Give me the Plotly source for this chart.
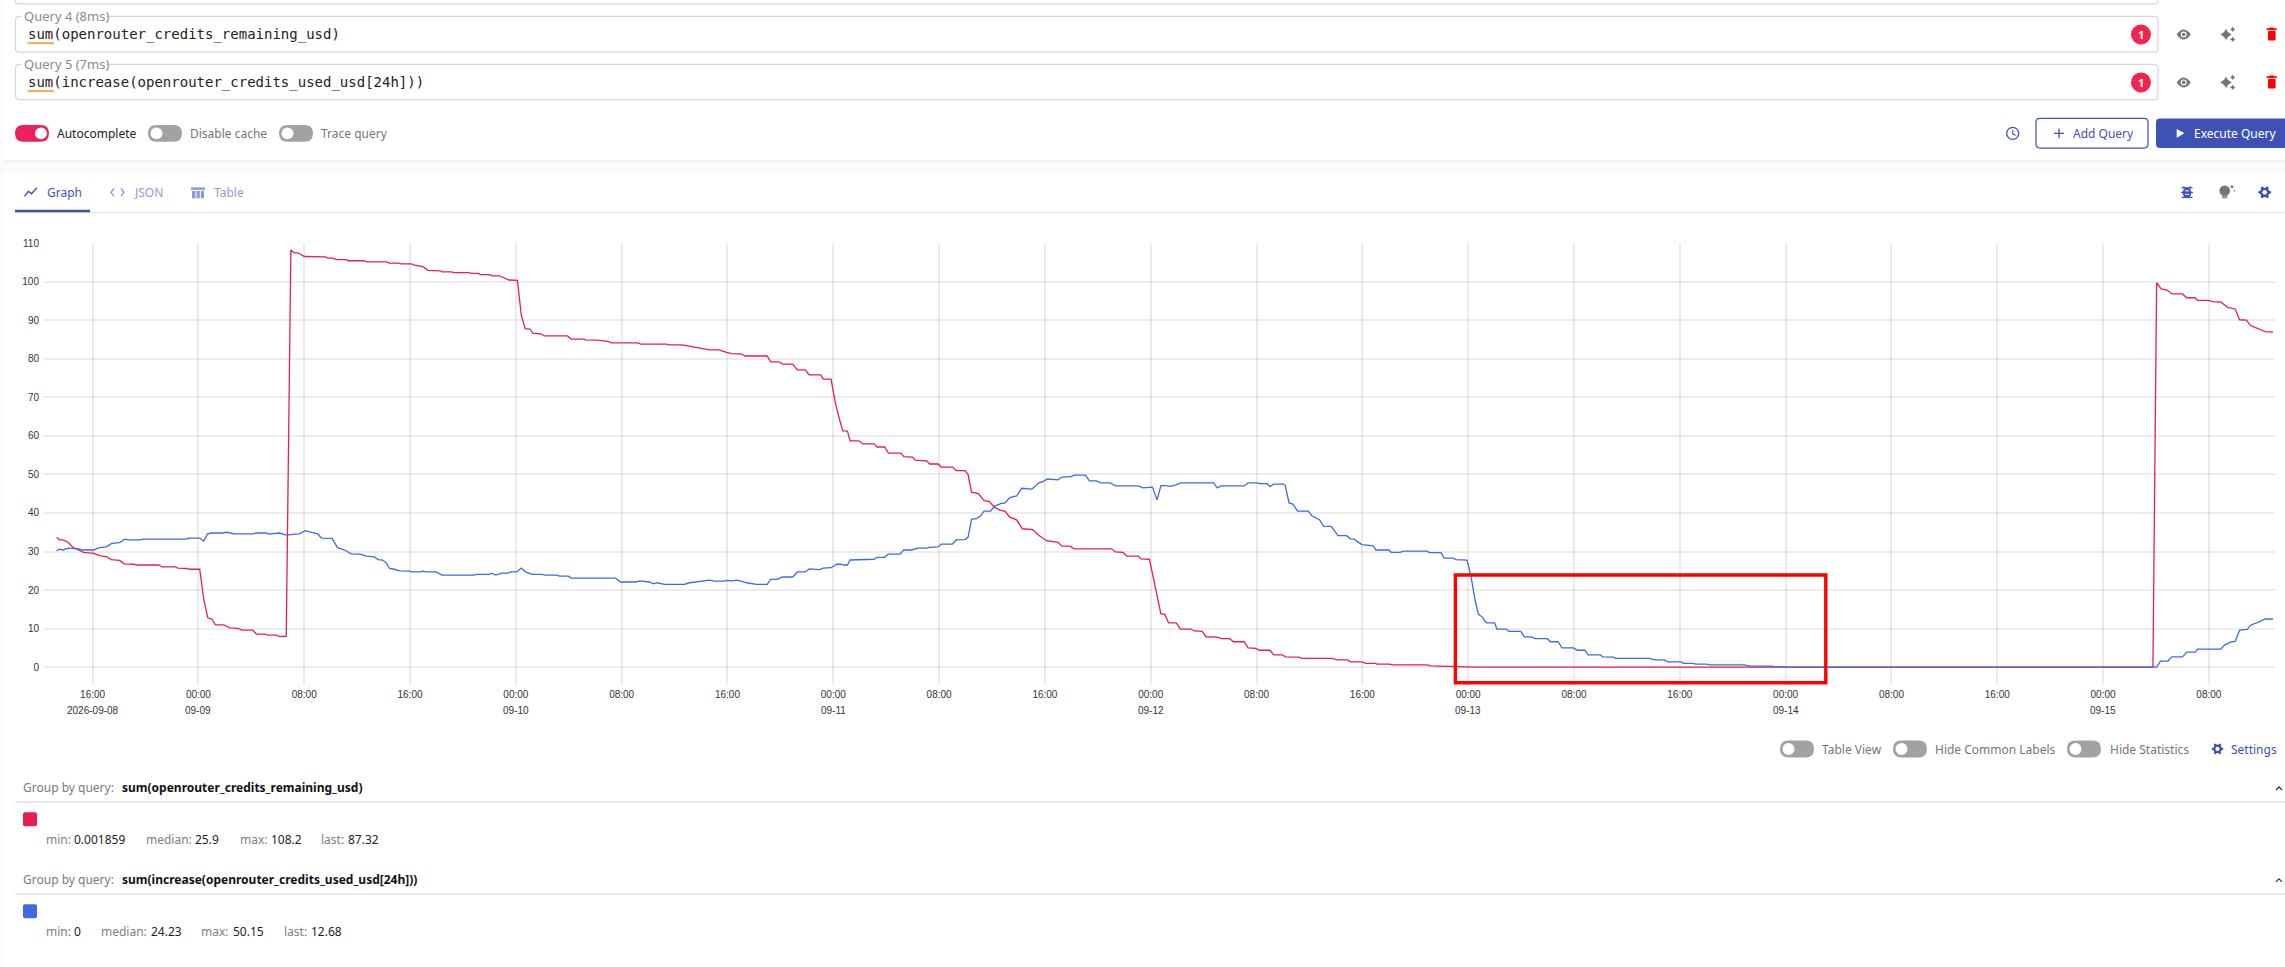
import math
from datetime import datetime, timedelta
import plotly.graph_objects as go

# ---- data (hours since 2026-09-08 00:00, USD) ----
RED_HOURS = [13.28,13.48,13.77,14.15,14.50,14.93,15.31,16.09,16.58,17.04,17.39,18.03,18.40,19.13,19.36,21.01,21.24,22.25,22.45,23.18,23.32,24.10,24.42,24.71,25.00,25.29,25.92,26.36,26.99,27.28,28.10,28.38,29.02,29.25,29.89,30.12,30.64,30.99,31.22,31.57,32.00,33.59,33.82,34.17,34.46,35.18,35.33,36.49,36.72,38.22,38.45,39.09,39.32,40.10,40.39,40.97,41.35,42.27,42.42,43.14,43.29,44.44,44.65,45.17,45.31,46.03,46.18,46.76,47.19,47.48,48.12,48.41,48.70,49.07,49.28,49.94,50.14,51.91,52.17,53.12,53.27,54.14,54.96,55.25,57.22,57.45,59.39,59.59,60.54,61.12,61.50,62.13,62.66,63.35,63.87,64.30,65.09,65.32,67.00,67.26,67.92,68.15,68.93,69.28,69.89,70.18,71.05,71.25,71.83,72.17,72.49,72.72,73.07,73.27,73.94,74.23,75.10,75.30,75.88,76.17,77.12,77.33,77.99,78.19,79.06,79.29,79.93,80.16,81.03,81.29,81.95,82.19,82.45,82.97,83.40,83.78,84.18,84.56,84.99,85.34,85.86,86.30,87.08,87.45,88.12,88.99,89.28,89.91,90.20,93.04,93.33,93.90,94.19,95.06,95.26,95.90,96.77,97.06,97.35,97.93,98.25,99.03,99.31,99.89,100.18,101.05,101.34,101.97,102.26,103.07,103.36,103.94,104.23,105.01,105.30,105.97,106.17,107.18,107.41,109.73,110.08,110.89,111.09,111.96,112.25,112.97,113.11,114.07,114.27,116.88,117.17,120.15,120.49,171.77,172.05,172.39,172.83,173.21,174.01,174.32,174.97,175.15,176.00,176.26,176.90,177.42,177.99,178.32,178.84,179.15,179.74,180.26,180.85]
RED_VALUES = [33.7,33.0,33.0,32.4,31.1,30.3,29.8,29.5,28.9,28.7,27.9,27.7,26.8,26.7,26.5,26.5,26.0,26.0,25.7,25.6,25.4,25.4,17.3,12.8,12.5,11.0,11.0,10.2,10.1,9.6,9.6,8.6,8.6,8.3,8.3,8.0,8.0,108.2,107.5,107.4,106.5,106.4,106.1,106.1,105.7,105.7,105.4,105.4,105.1,105.1,104.8,104.8,104.6,104.6,104.2,103.9,102.9,102.8,102.5,102.5,102.3,102.3,102.1,102.1,101.8,101.8,101.5,101.5,100.8,100.4,100.3,91.3,87.8,87.7,86.6,86.4,85.9,85.9,85.1,85.1,84.9,84.8,84.5,84.1,84.1,83.8,83.8,83.6,83.6,83.2,82.9,82.6,82.3,82.3,81.7,81.3,81.2,80.7,80.7,79.2,79.2,78.6,78.6,77.1,77.1,75.8,75.8,74.7,74.7,68.3,64.0,61.3,61.2,58.7,58.7,57.9,57.9,57.1,57.1,55.5,55.5,54.6,54.5,53.7,53.5,52.7,52.7,51.9,51.9,51.0,51.0,50.0,45.4,45.0,43.2,43.0,41.5,40.8,40.4,38.9,38.2,35.9,35.7,34.4,32.8,32.4,31.4,31.4,30.7,30.7,29.9,29.8,28.8,28.8,28.1,28.0,13.8,13.7,11.5,11.5,9.9,9.9,9.4,9.3,7.9,7.8,7.4,7.4,6.6,6.6,5.0,4.9,4.4,4.4,3.2,3.2,2.7,2.6,2.3,2.3,1.9,1.9,1.4,1.4,1.0,1.0,0.8,0.8,0.6,0.6,0.35,0.2,0.002,0.002,99.7,98.1,97.8,96.8,96.8,95.8,95.8,95.1,95.1,94.8,94.7,93.3,92.9,90.1,90.0,88.6,87.8,87.0,86.9]
BLUE_HOURS = [13.28,13.48,13.77,14.15,14.93,15.22,16.09,16.38,16.67,17.04,17.45,18.03,18.43,18.69,19.56,19.85,23.03,23.32,24.10,24.39,24.68,24.97,25.84,26.13,26.71,28.10,28.38,29.11,29.31,29.89,30.12,30.55,30.84,31.28,31.63,32.06,33.01,33.30,34.11,34.52,35.04,35.56,36.20,36.72,37.30,37.59,37.93,38.22,38.45,38.80,39.23,39.96,40.10,40.77,40.97,41.26,41.98,42.42,44.82,45.02,46.03,46.18,46.47,46.96,47.42,47.63,48.06,48.41,48.70,49.22,49.94,50.23,51.10,51.30,51.97,52.17,55.54,55.91,57.07,57.36,58.08,58.43,58.66,59.24,60.75,61.12,61.50,62.13,62.66,63.00,63.73,64.01,64.30,64.74,65.46,66.19,67.00,67.26,67.78,68.15,68.93,69.28,69.89,70.18,70.96,71.25,71.83,72.26,72.55,72.75,73.07,73.27,74.29,75.10,75.30,75.88,76.17,77.04,77.33,77.90,78.40,79.06,79.26,79.93,80.16,81.00,81.29,81.95,82.19,82.45,82.82,83.11,83.40,83.89,84.18,84.65,84.99,85.34,85.86,86.24,87.02,87.54,87.89,88.18,88.99,89.28,89.97,90.20,91.07,91.36,91.88,92.23,92.95,93.33,95.06,95.41,96.13,96.48,96.77,97.15,97.44,97.87,98.25,100.76,101.02,101.31,103.07,103.36,104.00,104.23,104.81,105.01,105.30,106.03,106.17,106.46,106.75,107.10,107.91,108.20,108.77,109.06,109.64,110.16,110.80,111.09,111.38,111.96,112.83,113.03,113.98,114.19,114.85,115.08,116.88,117.08,117.95,118.18,118.84,119.10,119.91,120.20,120.55,120.78,121.07,121.36,122.00,122.17,122.87,123.10,123.97,124.25,124.83,125.06,125.99,126.22,126.80,127.09,127.96,128.25,128.83,129.06,129.98,130.19,130.97,131.14,133.66,134.15,134.82,135.10,136.12,136.26,136.99,137.22,138.00,138.29,140.89,141.27,142.97,143.10,144.00,144.18,171.77,172.05,172.34,172.90,173.21,174.01,174.32,174.97,175.15,176.90,177.21,177.63,177.99,178.32,178.91,179.15,179.74,180.26,180.85]
BLUE_VALUES = [30.2,30.6,30.4,30.9,30.7,30.4,30.4,30.9,31.1,31.2,32.1,32.3,33.2,33.0,33.0,33.2,33.2,33.5,33.5,32.7,34.5,34.8,34.8,35.0,34.6,34.6,34.8,34.8,34.5,34.6,34.8,34.3,34.3,34.5,34.6,35.4,34.6,33.5,33.4,31.0,30.4,29.4,29.3,28.8,28.6,27.9,27.8,27.0,25.6,25.4,25.0,24.9,24.7,24.7,24.9,24.7,24.7,23.9,23.9,24.1,24.1,24.4,23.9,24.4,24.4,24.7,24.7,25.7,24.8,24.1,24.1,23.9,23.9,23.6,23.6,23.1,23.1,22.1,22.1,22.4,22.1,21.6,21.9,21.5,21.5,21.9,22.1,22.3,22.6,22.3,22.3,22.5,22.4,22.6,21.9,21.5,21.5,22.8,22.8,23.4,23.4,24.7,24.7,25.5,25.3,25.7,25.8,26.7,26.7,26.5,26.5,27.8,28.0,28.0,28.5,28.5,29.3,29.3,30.4,30.4,30.9,30.9,31.1,31.2,31.9,31.9,33.0,33.1,33.7,38.4,38.5,39.2,40.5,40.5,41.7,42.4,42.6,44.0,44.4,46.4,46.2,47.8,48.2,48.8,48.6,49.3,49.4,49.8,49.8,48.3,48.3,47.8,47.8,47.0,47.0,46.5,46.7,43.4,47.1,47.1,46.9,47.2,47.8,47.8,46.5,47.0,47.0,47.8,47.8,47.6,47.6,46.8,47.5,47.5,47.1,42.6,42.3,40.5,40.5,39.2,38.2,36.6,36.5,34.1,34.1,33.3,33.2,31.8,31.5,30.4,30.4,29.8,29.8,30.1,30.1,29.7,29.7,28.3,28.3,27.9,27.8,23.8,16.9,13.7,13.0,11.5,11.5,9.9,9.9,9.3,9.3,7.9,7.8,7.4,7.4,6.6,6.6,5.0,5.0,4.4,4.4,3.2,3.2,2.7,2.6,2.3,2.3,1.9,1.9,1.4,1.4,1.0,1.0,0.8,0.8,0.6,0.6,0.3,0.3,0.1,0.1,0,0,0.05,1.6,1.6,2.7,2.7,3.9,3.9,4.7,4.7,5.8,6.5,6.7,9.6,9.8,10.9,11.7,12.5,12.5]
Y_TICKS = [0,10,20,30,40,50,60,70,80,90,100,110]
X_TICK_HOURS = [16,24,32,40,48,56,64,72,80,88,96,104,112,120,128,136,144,152,160,168,176]
X_TICK_TEXT = ["16:00","00:00","08:00","16:00","00:00","08:00","16:00","00:00","08:00","16:00","00:00","08:00","16:00","00:00","08:00","16:00","00:00","08:00","16:00","00:00","08:00"]
DATE_HOURS = [16,24,48,72,96,120,144,168]
DATE_TEXT = ["2026-09-08","09-09","09-10","09-11","09-12","09-13","09-14","09-15"]
QUERY_4 = "sum(openrouter_credits_remaining_usd)"
QUERY_5 = "sum(increase(openrouter_credits_used_usd[24h]))"
STATS_RED = [("min:",45.5),("0.001859",73.7),("median:",145.5),("25.9",195),("max:",239.7),("108.2",271),("last:",321),("87.32",348)]
STATS_BLUE = [("min:",45.5),("0",73.7),("median:",101),("24.23",151),("max:",201),("50.15",233),("last:",283.5),("12.68",310.7)]

# ---- colours / fonts ----
RED = "#e91e4d"; BLUE = "#4169e1"; INDIGO = "#3f51b5"; PALE = "#8f9ad6"
GREY_T = "#757575"
UI = "Noto Sans"; MONO = "DejaVu Sans Mono"; CHART = "Liberation Sans"

BASE = datetime(2026, 9, 8)
def T(h):
    return (BASE + timedelta(hours=h)).strftime("%Y-%m-%d %H:%M:%S")

L, R, TOP, BOT = 43.0, 2275.0, 242.7, 685.0
def px(x): return (x - L) / (R - L)
def py(y): return (BOT - y) / (BOT - TOP)

def P(s):
    out, pair = [], []
    for tok in s.split():
        if tok.isalpha():
            out.append(tok)
        else:
            pair.append(float(tok))
            if len(pair) == 2:
                out.append(f"{px(pair[0]):.6f},{py(pair[1]):.6f}")
                pair = []
    return " ".join(out)

shapes, notes = [], []
def path(s, fill=None, line=None, w=1.0):
    shapes.append(dict(type="path", xref="paper", yref="paper", path=P(s),
                       fillcolor=fill or "rgba(0,0,0,0)",
                       line=dict(color=line or "rgba(0,0,0,0)", width=w if line else 0)))
def rect(x0, y0, x1, y1, fill):
    shapes.append(dict(type="rect", xref="paper", yref="paper", x0=px(x0), x1=px(x1), y0=py(y0), y1=py(y1),
                       fillcolor=fill, line=dict(width=0)))
def circ(cx, cy, rx, fill=None, line=None, w=1.0, ry=None):
    ry = ry or rx
    shapes.append(dict(type="circle", xref="paper", yref="paper", x0=px(cx-rx), x1=px(cx+rx), y0=py(cy-ry), y1=py(cy+ry),
                       fillcolor=fill or "rgba(0,0,0,0)",
                       line=dict(color=line or "rgba(0,0,0,0)", width=w if line else 0)))
def rr(x0, y0, x1, y1, r):
    return (f"M {x0+r} {y0} L {x1-r} {y0} Q {x1} {y0} {x1} {y0+r} L {x1} {y1-r} Q {x1} {y1} {x1-r} {y1} "
            f"L {x0+r} {y1} Q {x0} {y1} {x0} {y1-r} L {x0} {y0+r} Q {x0} {y0} {x0+r} {y0} Z")
def text(x, y, s, size=12, color=GREY_T, family=UI, anchor="left"):
    notes.append(dict(xref="paper", yref="paper", x=px(x), y=py(y), text=s, showarrow=False, xanchor=anchor,
                      yanchor="middle", borderpad=0, borderwidth=0,
                      font=dict(size=size, color=color, family=family)))
def toggle(x0, yc, on=False):
    path(rr(x0, yc-8.5, x0+34, yc+8.5, 8.5), fill="#ee1f60" if on else "#a2a2a2")
    circ(x0+26 if on else x0+8.5, yc, 6, fill="#ffffff")
def gear(cx, cy, r, col):
    pts = []
    for i in range(8*3):
        a = math.radians(i*15 + 7.5)
        rad = r if (i % 4 in (0, 3)) else r*0.72
        pts.append((cx + rad*math.cos(a), cy + rad*math.sin(a)))
    path("M " + " L ".join(f"{a:.2f} {b:.2f}" for a, b in pts) + " Z", fill=col)
    circ(cx, cy, r*0.36, fill="#ffffff")
def star(cx, cy, r, col):
    k = r*0.28
    path(f"M {cx} {cy-r} Q {cx+k} {cy-k} {cx+r} {cy} Q {cx+k} {cy+k} {cx} {cy+r} Q {cx-k} {cy+k} {cx-r} {cy} Q {cx-k} {cy-k} {cx} {cy-r} Z", fill=col)

# ---- page chrome ----
rect(0, 160, 2285, 172, "#fafafa")
rect(0, 160, 2285, 162, "#f0f0f0")
rect(0, 0, 3, 967, "#fafafa")

# previous query box (only its bottom edge shows)
path("M 15 0 Q 15 3.4 19 3.4 L 2154 3.4 Q 2158 3.4 2158 0", line="#d6d6d6", w=1.2)

for yc, top, bottom, q, lab, under in [(34, 16, 51.7, QUERY_4, "Query 4 (8ms)", 42.7), (82, 64, 99.3, QUERY_5, "Query 5 (7ms)", 90.7)]:
    path(rr(15.5, top, 2158, bottom, 4), fill="#ffffff", line="#d6d6d6", w=1.2)
    rect(21, top-2, 106, top+2, "#ffffff")
    text(24, top, lab, size=13, color="#8a8a8a")
    text(28, yc, q, size=14, color="#222222", family=MONO)
    rect(27.5, under-1, 54, under+1, "#f2b04a")
    # badge
    circ(2141, yc, 10, fill="#f0244f")
    text(2141, yc, "<b>1</b>", size=11, color="#ffffff", anchor="center")
    # eye
    path(f"M 2176.7 {yc} Q 2183.7 {yc-10} 2190.7 {yc} Q 2183.7 {yc+10} 2176.7 {yc} Z", fill=GREY_T)
    circ(2183.7, yc, 3, fill="#ffffff")
    circ(2183.7, yc, 1.8, fill=GREY_T)
    # sparkles
    star(2226, yc, 5.8, GREY_T)
    star(2232.7, yc-5, 2.6, GREY_T)
    star(2232.7, yc+5, 2.6, GREY_T)
    # trash
    rect(2266.7, yc-6.2, 2276.7, yc-4.4, "#ff0000")
    rect(2269.7, yc-7, 2273.7, yc-5, "#ff0000")
    path(rr(2268, yc-3.6, 2275.6, yc+6, 1), fill="#ff0000")

toggle(15, 133, on=True)
text(57, 133, "Autocomplete", size=12, color="#222222")
toggle(148, 133)
text(190, 133, "Disable cache", size=12, color=GREY_T)
toggle(279, 133)
text(321, 133, "Trace query", size=12, color=GREY_T)

circ(2012.7, 133, 6, line=INDIGO, w=1.3)
path("M 2012.7 129.5 L 2012.7 133.3 L 2015.5 135.2", line=INDIGO, w=1.2)
path(rr(2036, 118, 2148, 147.7, 4), fill="#ffffff", line=INDIGO, w=1.2)
path("M 2054 133 L 2064 133 M 2059 128 L 2059 138", line=INDIGO, w=1.3)
text(2073, 133, "Add Query", size=12, color=INDIGO)
path(rr(2156, 118, 2295, 147.7, 4), fill=INDIGO)
path("M 2176.7 128.5 L 2184.5 133 L 2176.7 137.5 Z", fill="#ffffff")
text(2193.7, 133, "Execute Query", size=12, color="#ffffff")

# tabs
path("M 24.5 196 L 28.5 191 L 31.5 193.5 L 37 187.5", line=INDIGO, w=1.4)
text(47.4, 191.7, "Graph", size=12, color=INDIGO)
path("M 114 188 L 111 192 L 114 196 M 121 188 L 124 192 L 121 196", line=PALE, w=1.4)
text(134, 191.7, "JSON", size=12, color=PALE)
rect(191, 187, 205, 189.5, PALE)
rect(192, 190.5, 195.5, 198, PALE)
rect(196.5, 190.5, 199.8, 198, PALE)
rect(200.8, 190.5, 204, 198, PALE)
text(214, 191.7, "Table", size=12, color=PALE)
rect(15, 211.6, 2285, 212.8, "#e0e0e0")
rect(15, 209.5, 90, 212, INDIGO)

# right hand tool icons
circ(2187, 192.5, 4.3, fill=INDIGO, ry=5.3)
path("M 2181.5 187.5 L 2192.5 187.5 M 2181 192 L 2193 192 M 2181.5 197 L 2192.5 197 M 2183.5 186 L 2185 188 M 2190.5 186 L 2189 188", line=INDIGO, w=1.2)
path("M 2185 190.5 L 2189 190.5 M 2185 194 L 2189 194", line="#ffffff", w=1)
circ(2224.7, 190.5, 5.3, fill=GREY_T)
rect(2221.8, 195.5, 2227.6, 198, "#9a9a9a")
star(2232, 186.5, 2.2, GREY_T)
star(2234.5, 190.5, 1.2, GREY_T)
gear(2264.7, 192, 6.4, INDIGO)

# controls under the chart
toggle(1780, 749); text(1822, 750, "Table View", size=12, color=GREY_T)
toggle(1893, 749); text(1935.4, 750, "Hide Common Labels", size=12, color=GREY_T)
toggle(2067, 749); text(2109.7, 750, "Hide Statistics", size=12, color=GREY_T)
gear(2217.5, 749, 5.8, INDIGO); text(2231, 750, "Settings", size=12, color=INDIGO)

# legend groups
for gy, divy, sw0, sty, col, q, stats in [(788, 802.2, 812.3, 840, RED, QUERY_4, STATS_RED), (880, 894.2, 904.3, 932, BLUE, QUERY_5, STATS_BLUE)]:
    text(23, gy, "Group by query:", size=12, color="#7a7a7a")
    text(122, gy, f"<b>{q}</b>", size=12, color="#111111")
    rect(15, divy-0.5, 2285, divy+0.6, "#dddddd")
    path(f"M 2276 {gy+2} L 2279 {gy-1} L 2282 {gy+2}", line="#333333", w=1.3)
    path(rr(23, sw0, 37, sw0+14, 2), fill=col)
    for s, sx in stats:
        label = s.endswith(":")
        text(sx, sty, s, size=12, color="#808080" if label else "#222222")

# annotation rectangle on the chart
shapes.append(dict(type="rect", xref="paper", yref="paper", x0=px(1455.4), x1=px(1825.8), y0=py(682.7), y1=py(575),
                   line=dict(color="#ff0000", width=3.4), fillcolor="rgba(0,0,0,0)"))

# second line of the time axis
for h, s in zip(DATE_HOURS, DATE_TEXT):
    notes.append(dict(xref="x", yref="paper", x=T(h), y=py(711), text=s, showarrow=False, xanchor="center",
                      yanchor="middle", borderpad=0, font=dict(size=10, color="#333333", family=CHART)))

fig = go.Figure()
fig.add_trace(go.Scatter(x=[T(h) for h in RED_HOURS], y=RED_VALUES, mode="lines", name=QUERY_4,
                         line=dict(color=RED, width=1.3), hoverinfo="skip"))
fig.add_trace(go.Scatter(x=[T(h) for h in BLUE_HOURS], y=BLUE_VALUES, mode="lines", name=QUERY_5,
                         line=dict(color=BLUE, width=1.3), hoverinfo="skip"))
fig.update_layout(
    width=2285, height=967, showlegend=False, paper_bgcolor="#ffffff", plot_bgcolor="#ffffff",
    margin=dict(l=L, r=2285-R, t=TOP, b=967-BOT, pad=0, autoexpand=False),
    xaxis=dict(type="date", range=[T(12.25), T(181.0)], tickmode="array",
               tickvals=[T(h) for h in X_TICK_HOURS], ticktext=X_TICK_TEXT, showgrid=True,
               gridcolor="rgba(0,0,0,0.08)", gridwidth=2, ticklabelstandoff=2,
               zeroline=False, showline=False, ticks="", tickangle=0,
               tickfont=dict(size=10, color="#333333", family=CHART)),
    yaxis=dict(range=[-4.61, 110], tickmode="array", tickvals=Y_TICKS, ticktext=[str(v) for v in Y_TICKS],
               showgrid=True, gridcolor="rgba(0,0,0,0.07)", gridwidth=2, ticklabelstandoff=3,
               zeroline=False, showline=False, ticks="",
               tickfont=dict(size=10, color="#333333", family=CHART)),
    shapes=shapes, annotations=notes,
)
fig.write_html("out.html", config={"displayModeBar": False},
               post_script="document.body.style.margin='0';document.documentElement.style.overflow='hidden';")
